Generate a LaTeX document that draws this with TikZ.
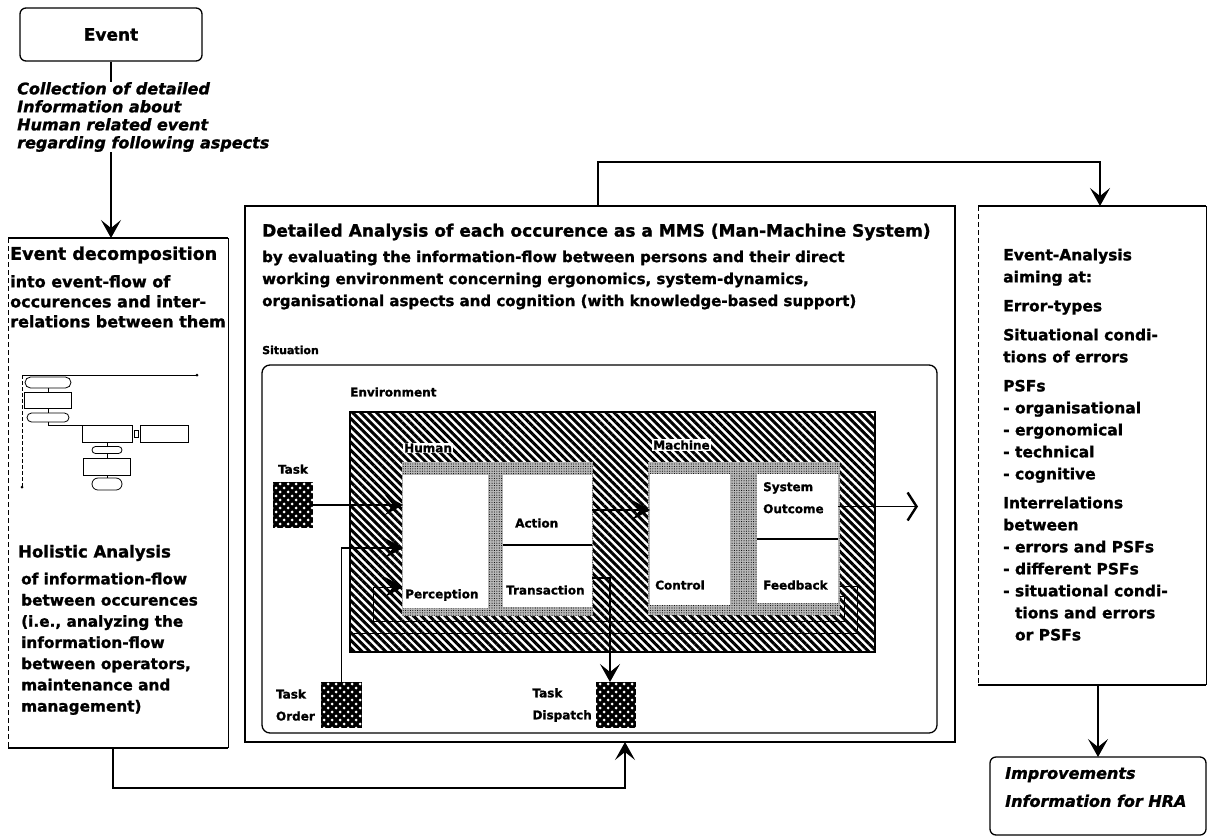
\documentclass[tikz,border=0pt]{standalone}
\usepackage{fontspec}
\setmainfont{DejaVu Sans}[BoldFeatures={FakeBold=1.3},BoldItalicFeatures={FakeBold=1.3}]
\usetikzlibrary{arrows.meta,positioning,patterns.meta,shapes.misc}

\tikzset{
  blk/.style={anchor=north west,inner sep=0pt,outer sep=0pt},
  bx/.style={draw,line width=1.3pt},
  arr/.style={-{Stealth[length=18pt,width=20pt,inset=8pt]},line width=1.3pt},
  outarr/.style={-{Straight Barb[length=9pt,width=28pt,line width=2.4pt]},line width=1.3pt},
  txtbody/.style={font=\fontsize{15}{22}\selectfont\bfseries,align=left,inner sep=0pt,anchor=north west},
  txthead/.style={font=\fontsize{17.5}{20}\selectfont\bfseries,inner sep=0pt,anchor=west},
  txtit/.style={font=\fontsize{16}{18}\selectfont\bfseries\itshape,align=left,inner sep=0pt,anchor=north west},
  lbl/.style={font=\fontsize{12}{22}\selectfont\bfseries,inner sep=0pt,align=left},
  minibox/.style={draw,line width=.8pt,inner sep=0pt,outer sep=0pt},
  envhatch/.style={draw,line width=1.2pt,pattern={Lines[angle=-45,distance=5.6pt,line width=3pt]}},
  stip/.style={preaction={fill=black!28},pattern={Dots[distance=2.4pt,radius=.55pt]}},
  dotbox/.style={preaction={fill=black},pattern={Dots[distance=8pt,radius=1.5pt]},pattern color=white,
    postaction={pattern={Dots[distance=8pt,radius=1.5pt,xshift=4pt,yshift=4pt]},pattern color=white}},
  wbox/.style={blk,fill=white},
}

\begin{document}
\begin{tikzpicture}[x=1pt,y=-1pt]
\fill[white] (0,0) rectangle (1207,836);
\useasboundingbox (0,0) rectangle (1207,836);

% event and data collection
\node[bx,rounded corners=6pt,minimum width=182pt,minimum height=53pt,font=\fontsize{17}{20}\selectfont\bfseries] (ev) at (111,34.5) {Event};
\node[txtit] (coll) at (17,82) {Collection of detailed\\Information about\\Human related event\\regarding following aspects};

% left column
\node[blk,minimum width=220pt,minimum height=510pt] (lb) at (8,238) {};
\draw[line width=1.3pt] (lb.north west) -- (lb.north east) (lb.south west) -- (lb.south east);
\draw[line width=.6pt,dash pattern=on 5pt off 3pt] (lb.north west) -- (lb.south west);
\draw[line width=.8pt] (lb.north east) -- (lb.south east);
\node[txthead] at (10,255) {Event decomposition};
\node[txtbody,font=\fontsize{16}{20}\selectfont\bfseries] at (10,275) {into event-flow of\\occurences and inter-\\relations between them};

% small event-flow sketch
\draw[line width=.8pt] (22,375) -- (197,375);
\draw[line width=.6pt,dash pattern=on 4pt off 2pt] (22,375) -- (22,487);
\fill (197,375) circle (1.5pt) (22,487) circle (1.5pt);
\node[minibox,rounded rectangle,minimum width=46pt,minimum height=11pt] (m1) at (48,382.5) {};
\node[minibox,minimum width=47pt,minimum height=16pt] (r1) at (48,400) {};
\node[minibox,rounded rectangle,minimum width=42pt,minimum height=9pt] (m2) at (48,417.5) {};
\node[minibox,minimum width=50pt,minimum height=17pt] (r2) at (107,433.5) {};
\node[minibox,minimum width=48pt,minimum height=17pt] (r3) at (164,433.5) {};
\node[minibox,rounded rectangle,minimum width=30pt,minimum height=7pt] (m3) at (107,450) {};
\node[minibox,minimum width=47pt,minimum height=17pt] (r4) at (107,466.5) {};
\node[minibox,rounded rectangle,minimum width=30pt,minimum height=12pt] (m4) at (107,484) {};
\draw[line width=.8pt] (m1) -- (r1) -- (m2);
\draw[line width=.8pt] (m2.south) -- ++(0,3) -| (r2.north);
\draw[line width=.8pt] ([xshift=2pt,yshift=3.5pt]r2.east) rectangle ([xshift=-2pt,yshift=-3.5pt]r3.west);
\draw[line width=.8pt] (r2) -- (m3) -- (r4) -- (m4);

\node[txthead,font=\fontsize{16.5}{20}\selectfont\bfseries] at (18,553) {Holistic Analysis};
\node[txtbody,font=\fontsize{15.3}{21.2}\selectfont\bfseries] at (21,572.5) {of information-flow\\between occurences\\(i.e., analyzing the\\information-flow\\between operators,\\maintenance and\\management)};

% centre column
\node[blk,bx,minimum width=710pt,minimum height=536pt] (cb) at (245,206) {};
\node[txthead,font=\fontsize{17}{20}\selectfont\bfseries] at (262,232) {Detailed Analysis of each occurence as a MMS (Man-Machine System)};
\node[txtbody] at (262,250.5) {by evaluating the information-flow between persons and their direct\\working environment concerning ergonomics, system-dynamics,\\organisational aspects and cognition (with knowledge-based support)};
\node[lbl,anchor=west,font=\fontsize{11}{14}\selectfont\bfseries] at (262,350) {Situation};
\node[blk,bx,rounded corners=8pt,minimum width=675pt,minimum height=368pt] (sit) at (262,365) {};
\node[lbl,anchor=west] at (350,392) {Environment};
\node[blk,envhatch,minimum width=525pt,minimum height=240pt] (env) at (350,412) {};

% feedback return path
\draw[line width=1pt] (757,586) -| (857,633) -- (350,633);
\draw[arr,line width=1pt] (757,596) -| (844,621) -| (373,587) -- (403,587);

% human and machine
\node[blk,stip,minimum width=191pt,minimum height=154pt] (hum) at (402,462) {};
\node[blk,stip,minimum width=192pt,minimum height=153pt] (mac) at (648,462) {};
\node[lbl,anchor=west,fill=white,inner sep=1pt] at (403,448) {Human};
\node[lbl,anchor=west,fill=white,inner sep=1pt] at (652,445) {Machine};
\node[wbox,minimum width=85pt,minimum height=133pt] (per) at (403,475) {};
\node[wbox,minimum width=89pt,minimum height=70pt] (act) at (503,475) {};
\node[wbox,minimum width=89pt,minimum height=62pt] (tra) at (503,545) {};
\draw[line width=2.2pt] (act.south west) -- (act.south east);
\node[wbox,minimum width=80pt,minimum height=131pt] (ctl) at (650,474) {};
\node[wbox,minimum width=81pt,minimum height=65pt] (out) at (757,474) {};
\node[wbox,minimum width=81pt,minimum height=64pt] (fb) at (757,539) {};
\draw[line width=2.2pt] (out.south west) -- (out.south east);
\node[lbl,anchor=west] at ([xshift=2pt,yshift=13pt]per.south west) {Perception};
\node[lbl,anchor=west] at ([xshift=12pt,yshift=22pt]act.south west) {Action};
\node[lbl,anchor=west] at ([xshift=3pt,yshift=17pt]tra.south west) {Transaction};
\node[lbl,anchor=west] at ([xshift=5pt,yshift=20pt]ctl.south west) {Control};
\node[lbl,anchor=north west] at ([xshift=6pt,yshift=-8pt]out.north west) {System\\Outcome};
\node[lbl,anchor=west] at ([xshift=6pt,yshift=18pt]fb.south west) {Feedback};

% tasks
\node[blk,dotbox,minimum width=40pt,minimum height=46pt] (task) at (273,482) {};
\node[lbl,above=8pt of task] {Task};
\node[blk,dotbox,minimum width=41pt,minimum height=46pt] (order) at (321,682) {};
\node[lbl,left=6pt of order] {Task\\Order};
\node[blk,dotbox,minimum width=40pt,minimum height=46pt] (dis) at (596,682) {};
\node[lbl,left=4pt of dis] {Task\\Dispatch};
\coordinate (outend) at (918,505);

\draw[arr] (task.east) -- (task.east -| per.west);
\draw[arr] (order.north) |- (per.west |- 0,548);
\draw[arr] (act.east) -- (act.east -| ctl.west);
\draw[outarr] (out.east) -- (out.east -| outend);
\draw[arr] (tra.east |- 0,578) -| ([xshift=-6pt]dis.north);

% right column
\node[blk,minimum width=228pt,minimum height=479pt] (rb) at (978,206) {};
\draw[line width=1.3pt] (rb.north west) -- (rb.north east) (rb.south west) -- (rb.south east);
\draw[line width=.6pt,dash pattern=on 5pt off 3pt] (rb.north west) -- (rb.south west);
\draw[line width=.8pt] (rb.north east) -- (rb.south east);
\node[txtbody,font=\fontsize{15.5}{22}\selectfont\bfseries] at (1003,248.4) {Event-Analysis\\aiming at:\\[7pt]Error-types\\[7pt]Situational condi-\\tions of errors\\[7pt]PSFs\\- organisational\\- ergonomical\\- technical\\- cognitive\\[7pt]Interrelations\\between\\- errors and PSFs\\- different PSFs\\- situational condi-\\\phantom{- }tions and errors\\\phantom{- }or PSFs};
\node[blk,bx,rounded corners=6pt,minimum width=216pt,minimum height=78pt] (imp) at (990,757) {};
\node[txtit] at (1005,767) {Improvements\\[10pt]Information for HRA};

% connectors between the steps
\coordinate (tc1) at (598,162);
\coordinate (tc2) at (1100,162);
\coordinate (bc1) at (113,788);
\coordinate (bc2) at (625,788);
\coordinate (ic) at (1098,700);
\draw[line width=1.3pt] (ev.south) -- (ev.south |- coll.north);
\draw[arr] (ev.south |- coll.south) -- (ev.south |- lb.north);
\draw[arr] (tc1 |- cb.north) -- (tc1) -- (tc2) -- (tc2 |- rb.north);
\draw[arr] (bc1 |- lb.south) -- (bc1) -- (bc2) -- (bc2 |- cb.south);
\draw[arr] (ic |- rb.south) -- (ic |- imp.north);
\end{tikzpicture}
\end{document}
